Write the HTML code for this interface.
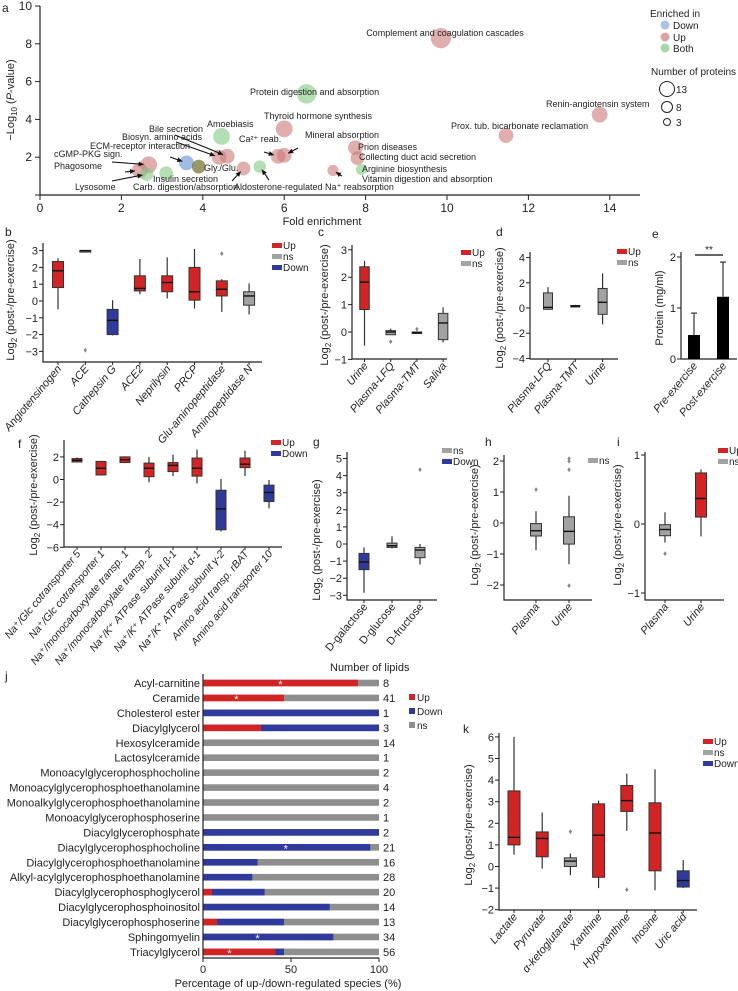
<!DOCTYPE html>
<html><head><meta charset="utf-8">
<style>
html,body{margin:0;padding:0;background:#fff;}
svg{display:block;font-family:"Liberation Sans","DejaVu Sans",sans-serif;}
text:not([fill]){fill:#222;}
.t{font-size:10px;}
.pl{font-size:12px;}
</style></head>
<body>
<svg id="fig" width="738" height="991" viewBox="0 0 738 991" xmlns="http://www.w3.org/2000/svg">
<rect width="738" height="991" fill="#fff"/>
<text class="pl" x="2" y="12">a</text>
<text class="pl" x="5" y="236">b</text>
<text class="pl" x="318" y="236">c</text>
<text class="pl" x="496" y="236">d</text>
<text class="pl" x="652" y="238">e</text>
<text class="pl" x="18" y="448">f</text>
<text class="pl" x="313" y="446">g</text>
<text class="pl" x="485" y="446">h</text>
<text class="pl" x="617" y="446">i</text>
<text class="pl" x="5" y="680">j</text>
<text class="pl" x="463" y="733">k</text>

<g>
<text class="t" x="650" y="17">Enriched in</text>
<circle cx="665" cy="25" r="4.5" fill="#a9c3e6"/><text class="t" x="673" y="29">Down</text>
<circle cx="665" cy="37" r="4.5" fill="#dca3a3"/><text class="t" x="673" y="41">Up</text>
<circle cx="665" cy="48" r="4.5" fill="#a7d9a7"/><text class="t" x="673" y="52">Both</text>
<text class="t" x="651" y="75">Number of proteins</text>
<circle cx="667" cy="89" r="7.5" fill="none" stroke="#222"/><text class="t" x="676" y="93">13</text>
<circle cx="667" cy="107" r="5.5" fill="none" stroke="#222"/><text class="t" x="676" y="111">8</text>
<circle cx="667" cy="122" r="3.5" fill="none" stroke="#222"/><text class="t" x="676" y="126">3</text>
</g>
<g id="layer"></g>
</svg>
<script>
// ---------- Panel a data ----------
const aNames = ["Complement and coagulation cascades","Protein digestion and absorption","Thyroid hormone synthesis","Amoebiasis","Renin-angiotensin system","Prox. tub. bicarbonate reclamation","Bile secretion","Biosyn. amino acids","Ca\u00B2\u207A reab.","Mineral absorption","Prion diseases","Collecting duct acid secretion","cGMP-PKG sign.","Phagosome","Lysosome","Insulin secretion","ECM-receptor interaction","Gly./Glu.","Carb. digestion/absorption","Aldosterone-regulated Na\u207A reabsorption","Arginine biosynthesis","Vitamin digestion and absorption"];
const aFold = [9.85,6.55,6.0,4.46,13.75,11.45,4.6,4.4,5.85,6.0,7.75,7.8,2.67,2.45,2.62,3.1,3.6,3.9,5.0,5.4,7.9,7.2];
const aLogP = [8.3,5.35,3.5,3.1,4.25,3.15,2.05,2.0,2.05,2.1,2.5,1.95,1.6,1.3,1.1,1.15,1.7,1.5,1.4,1.5,1.35,1.3];
const aCount = [13,12,9,9,8,7,7,7,7,7,7,6,9,8,6,6,7,6,6,5,4,4];
const aGroup = ["Up","Both","Up","Both","Up","Up","Up","Up","Up","Up","Up","Up","Up","Up","Both","Both","Down","Olive","Up","Both","Both","Up"];
const aXTicks = [0,2,4,6,8,10,12,14];
const aYTicks = [2,4,6,8,10];

// ---------- Panel b ----------
const bCats = ["Angiotensinogen","ACE","Cathepsin G","ACE2","Neprilysin","PRCP","Glu-aminopeptidase","Aminopeptidase N"];
const bQ1 = [0.8,3,-2.0,0.6,0.55,0.05,0.3,-0.25];
const bMed = [1.8,3,-1.15,0.75,1.1,0.55,0.7,0.3];
const bQ3 = [2.35,3,-0.5,1.5,1.5,2.0,1.2,0.55];
const bLo = [-0.5,3,-2.05,0.4,0.15,-0.45,-0.65,-0.8];
const bHi = [2.55,3,0.05,2.5,2.6,3.1,1.3,1.05];
const bCls = ["Up","ns","Down","Up","Up","Up","Up","ns"];
const bOut = [[],[-2.9],[],[],[],[],[2.85],[]];
const bTicks = [-3,-2,-1,0,1,2,3];

// ---------- Panel c ----------
const cCats = ["Urine","Plasma-LFQ","Plasma-TMT","Saliva"];
const cQ1 = [0.82,-0.1,-0.05,-0.28];
const cMed = [1.82,0.0,-0.02,0.33];
const cQ3 = [2.38,0.05,0.0,0.68];
const cLo = [-0.5,-0.1,-0.05,-0.38];
const cHi = [2.6,0.12,0.0,0.9];
const cCls = ["Up","ns","ns","ns"];
const cOut = [[],[-0.33],[0.12],[]];
const cTicks = [-1,0,1,2,3];

// ---------- Panel d ----------
const dCats = ["Plasma-LFQ","Plasma-TMT","Urine"];
const dQ1 = [-0.1,0.1,-0.5];
const dMed = [0.05,0.15,0.45];
const dQ3 = [1.2,0.2,1.55];
const dLo = [-0.15,0.05,-1.3];
const dHi = [1.65,0.25,2.75];
const dCls = ["ns","ns","ns"];
const dOut = [[],[],[]];
const dTicks = [-4,-2,0,2,4];

// ---------- Panel e ----------
const eCats = ["Pre-exercise","Post-exercise"];
const eMeans = [0.47,1.22];
const eErr = [0.9,1.9];
const eTicks = [0,1,2];

// ---------- Panel f ----------
const fCats = ["Na\u207A/Glc cotransporter 5","Na\u207A/Glc cotransporter 1","Na\u207A/monocarboxylate transp. 1","Na\u207A/monocarboxylate transp. 2","Na\u207A/K\u207A ATPase subunit \u03B2-1","Na\u207A/K\u207A ATPase subunit \u03B1-1","Na\u207A/K\u207A ATPase subunit \u03B3-2","Amino acid transp. rBAT","Amino acid transporter 10"];
const fQ1 = [1.55,0.4,1.5,0.25,0.7,0.3,-4.45,1.05,-1.95];
const fMed = [1.7,1.0,1.75,1.0,1.25,1.0,-2.6,1.35,-1.15];
const fQ3 = [1.85,1.6,2.0,1.45,1.5,1.9,-0.95,1.9,-0.5];
const fLo = [1.5,0.35,1.45,-0.25,0.3,-0.35,-4.6,0.3,-2.55];
const fHi = [1.95,1.65,2.05,2.0,2.2,2.65,0.05,2.55,-0.05];
const fCls = ["Up","Up","Up","Up","Up","Up","Down","Up","Down"];
const fOut = [[],[],[],[],[],[],[],[],[]];
const fTicks = [-6,-4,-2,0,2];

// ---------- Panel g ----------
const gCats = ["D-galactose","D-glucose","D-fructose"];
const gQ1 = [-1.5,-0.2,-0.8];
const gMed = [-1.05,-0.1,-0.35];
const gQ3 = [-0.55,0.05,-0.2];
const gLo = [-2.85,-0.25,-1.2];
const gHi = [-0.2,0.45,0.0];
const gCls = ["Down","ns","ns"];
const gOut = [[],[],[4.4]];
const gTicks = [-3,-2,-1,0,1,2,3,4,5];

// ---------- Panel h ----------
const hCats = ["Plasma","Urine"];
const hQ1 = [-0.42,-0.68];
const hMed = [-0.25,-0.27];
const hQ3 = [-0.02,0.2];
const hLo = [-0.88,-1.33];
const hHi = [0.38,0.88];
const hCls = ["ns","ns"];
const hOut = [[1.1],[2.1,2.02,1.75,-2.0]];
const hTicks = [-2,-1,0,1,2];

// ---------- Panel i ----------
const iCats = ["Plasma","Urine"];
const iQ1 = [-0.17,0.1];
const iMed = [-0.08,0.37];
const iQ3 = [-0.01,0.74];
const iLo = [-0.27,-0.18];
const iHi = [0.17,0.79];
const iCls = ["ns","Up"];
const iOut = [[-0.42],[]];
const iTicks = [-1,0,1];

// ---------- Panel j ----------
const jCats = ["Acyl-carnitine","Ceramide","Cholesterol ester","Diacylglycerol","Hexosylceramide","Lactosylceramide","Monoacylglycerophosphocholine","Monoacylglycerophosphoethanolamine","Monoalkylglycerophosphoethanolamine","Monoacylglycerophosphoserine","Diacylglycerophosphate","Diacylglycerophosphocholine","Diacylglycerophosphoethanolamine","Alkyl-acylglycerophosphoethanolamine","Diacylglycerophosphoglycerol","Diacylglycerophosphoinositol","Diacylglycerophosphoserine","Sphingomyelin","Triacylglycerol"];
const jUp = [88,46,0,33,0,0,0,0,0,0,0,0,0,0,5,0,8,0,41];
const jDown = [0,0,100,67,0,0,0,0,0,0,100,95,31,28,30,72,38,74,5];
const jCount = [8,41,1,3,14,1,2,4,2,1,2,21,16,28,20,14,13,34,56];
const jStar = [44,19,null,null,null,null,null,null,null,null,null,47,null,null,null,null,null,31,15];
const jTicks = [0,50,100];

// ---------- Panel k ----------
const kCats = ["Lactate","Pyruvate","\u03B1-ketoglutarate","Xanthine","Hypoxanthine","Inosine","Uric acid"];
const kQ1 = [1.0,0.45,0.0,-0.5,2.55,-0.2,-0.95];
const kMed = [1.35,1.3,0.25,1.45,3.05,1.55,-0.65];
const kQ3 = [3.5,1.6,0.4,2.9,3.75,2.95,-0.2];
const kLo = [0.55,-0.1,-0.4,-1.0,1.65,-1.1,-1.0];
const kHi = [6.0,2.5,0.6,3.05,4.3,4.5,0.3];
const kCls = ["Up","Up","ns","Up","Up","Up","Down"];
const kOut = [[],[],[1.65],[],[-1.05],[],[]];
const kTicks = [-2,-1,0,1,2,3,4,5,6];

// ================= drawing =================
const NS = "http://www.w3.org/2000/svg";
const layer = document.getElementById('layer');
const FILL = {Up:"#d22424", ns:"#a2a2a2", Down:"#2f3a9c"};
function mk(tag, attrs, parent){
  const el = document.createElementNS(NS, tag);
  for (const k in attrs) el.setAttribute(k, attrs[k]);
  (parent||layer).appendChild(el);
  return el;
}
function grp(){ return mk('g',{}); }

// ---- panel a ----
(function(){
  const g = grp();
  
  
  const X = v => 40 + v*40.7, Y = v => 195 - v*18.9;
  const ax = mk('path',{d:`M40 6 V195 H640`, stroke:'#222', fill:'none','stroke-width':1.2}, g);
  
  
  aXTicks.forEach(t=>{
    mk('line',{x1:X(t),x2:X(t),y1:195,y2:200,stroke:'#222'},g);
    const tx = mk('text',{x:X(t),y:212,'text-anchor':'middle','font-size':12},g);
    tx.textContent = t;
    
    
  });
  [0].concat(aYTicks).forEach(t=>{
    mk('line',{x1:35,x2:40,y1:Y(t),y2:Y(t),stroke:'#222'},g);
    if(t>0){
      const ty = mk('text',{x:32,y:Y(t)+4,'text-anchor':'end','font-size':12},g);
      ty.textContent = t;
      
      
    }
  });
  const xt = mk('text',{x:322,y:225,'text-anchor':'middle','font-size':11},g);
  xt.textContent = 'Fold enrichment';
  
  
  const yt = mk('text',{transform:'translate(14,100) rotate(-90)','text-anchor':'middle','font-size':11},g);
  yt.innerHTML = '\u2212Log<tspan font-size="8" dy="3">10</tspan><tspan dy="-3"> (</tspan><tspan font-style="italic">P</tspan>-value)';
  
  
  const col = {Up:'rgba(205,120,120,0.6)', Both:'rgba(130,200,130,0.6)', Down:'rgba(130,165,220,0.75)', Olive:'rgba(110,110,40,0.7)'};
  aFold.forEach((f,i)=>{
    const c = mk('circle',{cx:X(f),cy:Y(aLogP[i]),r:2.8*Math.sqrt(aCount[i]),fill:col[aGroup[i]]},g);
    
    
  });
  const ann = [
    [445,36,'middle',null],[250,95,'start',null],[264,119,'start',null],[207,127,'start',null],
    [546,107,'start',null],[451,129,'start',null],[149,132,'start',[175,135]],
    [122,140,'start',[176,142]],[239,142,'start',[264,152]],[305,138,'start',[298,148]],
    [358,150,'start',null],[359,160,'start',null],[54,157,'start',[112,162]],
    [54,169,'start',[125,172]],[75,190,'start',[112,181]],[153,182,'start',null],
    [90,149,'start',[170,157]],[204,171,'start',null],[133,190,'start',[232,181]],
    [234,190,'start',[269,180]],[362,172,'start',null],[362,182,'start',[342,176]]
  ];
  aNames.forEach((n,i)=>{
    const a = ann[i];
    const t = mk('text',{x:a[0],y:a[1],'text-anchor':a[2],'font-size':9},g);
    t.textContent = n;
    
    
    if(a[3]){
      const bx = X(aFold[i]), by = Y(aLogP[i]);
      const sx=a[3][0], sy=a[3][1];
      const dx=bx-sx, dy=by-sy, L=Math.hypot(dx,dy), r=2.8*Math.sqrt(aCount[i])*0.6;
      const ex=bx-dx/L*r, ey=by-dy/L*r;
      mk('line',{x1:sx,y1:sy,x2:ex,y2:ey,stroke:'#111','stroke-width':1.1},g);
      const ux=dx/L, uy=dy/L;
      mk('polygon',{points:`${ex},${ey} ${ex-ux*5-uy*2.5},${ey-uy*5+ux*2.5} ${ex-ux*5+uy*2.5},${ey-uy*5-ux*2.5}`,fill:'#111'},g);
    }
  });
})();

// ---- generic box panel ----
function boxPanel(P, cats, q1, med, q3, lo, hi, cls, outs, ticks){
  const g = grp();
  
  
  const Y = v => P.v0 - v*P.s;
  const X = i => P.cx0 + i*P.step;
  const ax = mk('path',{d:`M${P.ax} ${P.top} V${P.bot} H${P.xend}`,stroke:'#222',fill:'none','stroke-width':1.2},g);
  
  
  ticks.forEach(t=>{
    mk('line',{x1:P.ax-4,x2:P.ax,y1:Y(t),y2:Y(t),stroke:'#222'},g);
    const tx = mk('text',{x:P.ax-5,y:Y(t)+4,'text-anchor':'end','font-size':11},g);
    tx.textContent = t<0 ? '\u2212'+(-t) : t;
    
    
  });
  const yt = mk('text',{transform:`translate(${P.yl},${P.ylc}) rotate(-90)`,'text-anchor':'middle','font-size':11},g);
  yt.innerHTML = 'Log<tspan font-size="8" dy="3">2</tspan><tspan dy="-3"> (post-/pre-exercise)</tspan>';
  
  
  cats.forEach((c,i)=>{
    const cx = X(i), w = P.bw;
    mk('line',{x1:cx,x2:cx,y1:Y(lo[i]),y2:Y(hi[i]),stroke:'#333','stroke-width':1.2},g);
    const h = Math.max(Y(q1[i])-Y(q3[i]),1.5);
    const b = mk('rect',{x:cx-w/2,y:Y(q3[i]),width:w,height:h,fill:FILL[cls[i]],stroke:'#333','stroke-width':1},g);
    
    
    mk('line',{x1:cx-w/2,x2:cx+w/2,y1:Y(med[i]),y2:Y(med[i]),stroke:'#111','stroke-width':1.4},g);
    outs[i].forEach(o=>{
      const d = mk('text',{x:cx,y:Y(o)+3,'text-anchor':'middle','font-size':8,fill:'#888'},g);
      d.textContent = '\u2666';
      
      
    });
    mk('line',{x1:cx,x2:cx,y1:P.bot,y2:P.bot+3,stroke:'#222'},g);
    const lx = cx+4, ly = P.bot+7;
    const l = mk('text',{transform:`translate(${lx},${ly}) rotate(${P.rot||-50})`,'text-anchor':'end','font-size':P.lfs||11,'font-style':P.italic===false?'normal':'italic'},g);
    l.textContent = c;
    
    
  });
  if(P.leg){
    P.leg.forEach((k,j)=>{
      mk('rect',{x:P.lx,y:P.ly+j*11-3,width:10,height:5,fill:FILL[k]},g);
      const t = mk('text',{x:P.lx+11,y:P.ly+j*11+3,'font-size':10},g);
      t.textContent = k;
      
      
    });
  }
}

boxPanel({id:'b',ax:43,top:243,bot:362,xend:262,v0:301,s:16.8,cx0:58,step:27.3,bw:11,yl:14,ylc:300,leg:['Up','ns','Down'],lx:272,ly:246},bCats,bQ1,bMed,bQ3,bLo,bHi,bCls,bOut,bTicks);
boxPanel({id:'c',ax:352,top:245,bot:359,xend:447,v0:332,s:27.4,cx0:364.5,step:26.2,bw:9.5,yl:328,ylc:305,leg:['Up','ns'],lx:461,ly:253},cCats,cQ1,cMed,cQ3,cLo,cHi,cCls,cOut,cTicks);
boxPanel({id:'d',ax:530,top:252,bot:359,xend:618,v0:308,s:12.6,cx0:548,step:27.3,bw:9,yl:503,ylc:308,leg:['Up','ns'],lx:617,ly:252},dCats,dQ1,dMed,dQ3,dLo,dHi,dCls,dOut,dTicks);
boxPanel({id:'f',ax:64,top:440,bot:547,xend:282,v0:479.5,s:11.3,cx0:77,step:24,bw:10,yl:37,ylc:495,leg:['Up','Down'],lx:271,ly:443,lfs:10.5},fCats,fQ1,fMed,fQ3,fLo,fHi,fCls,fOut,fTicks);
boxPanel({id:'g',ax:347,top:452,bot:600,xend:437,v0:544,s:17.1,cx0:364,step:28,bw:10,yl:320,ylc:540,leg:['ns','Down'],lx:442,ly:451,italic:false},gCats,gQ1,gMed,gQ3,gLo,gHi,gCls,gOut,gTicks);
boxPanel({id:'h',ax:504,top:455,bot:600,xend:592,v0:523,s:31,cx0:536,step:33,bw:11,yl:478,ylc:525,leg:['ns'],lx:588,ly:461},hCats,hQ1,hMed,hQ3,hLo,hHi,hCls,hOut,hTicks);
boxPanel({id:'i',ax:645,top:452,bot:600,xend:724,v0:524,s:69,cx0:665,step:36,bw:11,yl:621,ylc:525,leg:['Up','ns'],lx:718,ly:451},iCats,iQ1,iMed,iQ3,iLo,iHi,iCls,iOut,iTicks);
boxPanel({id:'k',ax:499,top:733,bot:910,xend:697,v0:866.5,s:21.6,cx0:514,step:28.2,bw:12,yl:472,ylc:825,leg:['Up','ns','Down'],lx:703,ly:742},kCats,kQ1,kMed,kQ3,kLo,kHi,kCls,kOut,kTicks);

// ---- panel e ----
(function(){
  const g = grp();
  
  
  const Y = v => 359 - v*51;
  const X = i => 694 + i*29;
  const ax = mk('path',{d:'M681 252 V359 H737',stroke:'#222',fill:'none','stroke-width':1.2},g);
  
  
  eTicks.forEach(t=>{
    mk('line',{x1:677,x2:681,y1:Y(t),y2:Y(t),stroke:'#222'},g);
    const tx = mk('text',{x:676,y:Y(t)+4,'text-anchor':'end','font-size':11},g);
    tx.textContent = t;
    
    
  });
  const yt = mk('text',{transform:'translate(663,308) rotate(-90)','text-anchor':'middle','font-size':11},g);
  yt.textContent = 'Protein (mg/ml)';
  
  
  eCats.forEach((c,i)=>{
    const cx = X(i);
    mk('line',{x1:cx,x2:cx,y1:Y(eErr[i]),y2:Y(eMeans[i]),stroke:'#333','stroke-width':1.2},g);
    mk('line',{x1:cx-3,x2:cx+3,y1:Y(eErr[i]),y2:Y(eErr[i]),stroke:'#333','stroke-width':1.2},g);
    const b = mk('rect',{x:cx-6,y:Y(eMeans[i]),width:12,height:Y(0)-Y(eMeans[i]),fill:'#000'},g);
    
    
    const l = mk('text',{transform:`translate(${cx+4},366) rotate(-50)`,'text-anchor':'end','font-size':11,'font-style':'italic'},g);
    l.textContent = c;
    
    
  });
  mk('line',{x1:695,x2:723,y1:255,y2:255,stroke:'#333','stroke-width':1.5},g);
  const s = mk('text',{x:709,y:253,'text-anchor':'middle','font-size':10},g);
  s.textContent = '**';
  
  
})();

// ---- panel j ----
(function(){
  const g = grp();
  
  
  const X = v => 203 + v*1.76;
  const Y = i => 683 + i*14.94;
  jCats.forEach((c,i)=>{
    const y = Y(i)-3.3;
    const l = mk('text',{x:200,y:Y(i)+4,'text-anchor':'end','font-size':11},g);
    l.textContent = c;
    
    
    const r0 = mk('rect',{x:X(0),y:y,width:X(100)-X(0),height:6.6,fill:'#8e8e8e'},g);
    
    
    if(jUp[i]>0){
      const r = mk('rect',{x:X(0),y:y,width:X(jUp[i])-X(0),height:6.6,fill:'#d22424'},g);
      
      
    }
    if(jDown[i]>0){
      const r = mk('rect',{x:X(jUp[i]),y:y,width:X(jUp[i]+jDown[i])-X(jUp[i]),height:6.6,fill:'#2f3a9c'},g);
      
      
    }
    if(jStar[i]!==null){
      const s = mk('text',{x:X(jStar[i]),y:Y(i)+5,'text-anchor':'middle','font-size':11,fill:'#ffffff'},g);
      s.textContent = '*';
      
      
    }
    const n = mk('text',{x:383,y:Y(i)+4,'font-size':11},g);
    n.textContent = jCount[i];
    
    
  });
  const ax = mk('path',{d:'M203 674 V958 H379',stroke:'#222',fill:'none','stroke-width':1.2},g);
  
  
  jTicks.forEach(t=>{
    mk('line',{x1:X(t),x2:X(t),y1:958,y2:962,stroke:'#222'},g);
    const tx = mk('text',{x:X(t),y:973,'text-anchor':'middle','font-size':11},g);
    tx.textContent = t;
    
    
  });
  const xt = mk('text',{x:288,y:987,'text-anchor':'middle','font-size':11},g);
  xt.textContent = 'Percentage of up-/down-regulated species (%)';
  
  
  const nt = mk('text',{x:330,y:671,'font-size':11},g);
  nt.textContent = 'Number of lipids';
  
  
  [['Up','#d22424'],['Down','#2f3a9c'],['ns','#8e8e8e']].forEach((k,j)=>{
    mk('rect',{x:409,y:694+j*14,width:6,height:6,fill:k[1]},g);
    const t = mk('text',{x:417,y:701+j*14,'font-size':10},g);
    t.textContent = k[0];
    
    
  });
})();
</script>
</body></html>
